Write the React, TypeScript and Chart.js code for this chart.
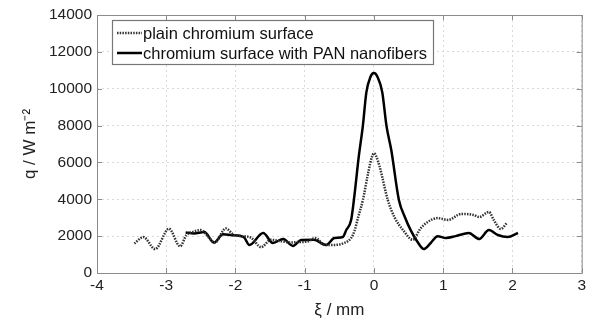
import React, { useEffect, useRef } from "react";
import { Chart, registerables } from "chart.js";

Chart.register(...registerables);

const plainXi = [-3.46, -3.33, -3.16, -2.96, -2.8, -2.71, -2.62, -2.5, -2.38, -2.3, -2.14, -2.02, -1.9, -1.77, -1.63, -1.49, -1.38, -1.3, -1.2, -1.1, -0.97, -0.84, -0.72, -0.6, -0.43, -0.33, -0.28, -0.23, -0.16, -0.08, -0.03, 0, 0.03, 0.08, 0.2, 0.3, 0.42, 0.56, 0.6, 0.66, 0.75, 0.92, 1.07, 1.26, 1.44, 1.52, 1.66, 1.73, 1.83, 1.92];
const plainQ = [1600, 1950, 1300, 2400, 1450, 2050, 2220, 2330, 1900, 1650, 2420, 2060, 2000, 1900, 1400, 1800, 1750, 1700, 1650, 1680, 1700, 1900, 1520, 1520, 1630, 1900, 2300, 3000, 3960, 5500, 6300, 6500, 6350, 5800, 3960, 3000, 2330, 1800, 1950, 2350, 2700, 2980, 2880, 3200, 3150, 3040, 3310, 2880, 2390, 2710];

const panXi = [-2.72, -2.6, -2.45, -2.31, -2.18, -2.05, -1.88, -1.8, -1.6, -1.46, -1.31, -1.17, -1.05, -0.87, -0.69, -0.57, -0.45, -0.4, -0.33, -0.29, -0.22, -0.16, -0.11, -0.05, 0, 0.05, 0.12, 0.18, 0.25, 0.36, 0.45, 0.53, 0.63, 0.72, 0.82, 0.92, 1.04, 1.18, 1.37, 1.52, 1.66, 1.79, 1.93, 2.08];
const panQ = [2200, 2150, 2220, 1650, 2100, 2050, 1950, 1520, 2170, 1630, 1840, 1470, 1790, 1800, 1520, 1900, 1950, 2330, 2870, 3960, 6300, 8000, 9800, 10650, 10850, 10650, 9800, 8000, 6670, 3960, 3000, 2330, 1680, 1300, 1630, 2000, 1900, 2000, 2170, 1840, 2330, 2060, 1950, 2170];

const xTicks = [-4, -3, -2, -1, 0, 1, 2, 3];
const yTicks = [0, 2000, 4000, 6000, 8000, 10000, 12000, 14000];
const seriesLabels = ["plain chromium surface", "chromium surface with PAN nanofibers"];
const xTitle = "ξ / mm";
const yTitle = "q / W m⁻²";

const FONT = "'Liberation Sans', Arial, sans-serif";

const framePlugin = {
  id: "frame",
  afterDatasetsDraw(chart: any) {
    const { ctx, chartArea: a, scales } = chart;
    ctx.save();
    ctx.strokeStyle = "#8c8c8c";
    ctx.lineWidth = 1;
    ctx.strokeRect(a.left + 0.5, a.top + 0.5, a.right - a.left, a.bottom - a.top);
    const tl = 5;
    ctx.beginPath();
    xTicks.forEach((v) => {
      const px = Math.round(scales.x.getPixelForValue(v)) + 0.5;
      ctx.moveTo(px, a.bottom);
      ctx.lineTo(px, a.bottom - tl);
      ctx.moveTo(px, a.top);
      ctx.lineTo(px, a.top + tl);
    });
    yTicks.forEach((v) => {
      const py = Math.round(scales.y.getPixelForValue(v)) + 0.5;
      ctx.moveTo(a.left, py);
      ctx.lineTo(a.left + tl, py);
      ctx.moveTo(a.right, py);
      ctx.lineTo(a.right - tl, py);
    });
    ctx.stroke();

    // legend
    const bx = a.left + 15;
    const by = a.top + 5;
    const bw = 321;
    const bh = 44;
    ctx.fillStyle = "#ffffff";
    ctx.fillRect(bx, by, bw, bh);
    ctx.strokeStyle = "#777";
    ctx.lineWidth = 1.2;
    ctx.strokeRect(bx + 0.5, by + 0.5, bw, bh);
    ctx.font = `16.5px ${FONT}`;
    ctx.textBaseline = "middle";
    ctx.fillStyle = "#111";
    const rows = [by + 13, by + 33];
    chart.data.datasets.forEach((ds: any, i: number) => {
      ctx.beginPath();
      ctx.strokeStyle = ds.borderColor;
      ctx.lineWidth = ds.borderWidth;
      ctx.setLineDash(ds.borderDash || []);
      ctx.moveTo(bx + 5, rows[i]);
      ctx.lineTo(bx + 30, rows[i]);
      ctx.stroke();
      ctx.setLineDash([]);
      ctx.fillText(seriesLabels[i], bx + 31, rows[i] + 1);
    });
    ctx.restore();
  },
};

export default function App() {
  const ref = useRef<HTMLCanvasElement>(null);
  useEffect(() => {
    document.body.style.margin = "0";
    const chart = new Chart(ref.current!, {
      type: "line",
      data: {
        datasets: [
          {
            label: seriesLabels[0],
            data: plainXi.map((x, i) => ({ x, y: plainQ[i] })),
            borderColor: "#333333",
            borderWidth: 2.5,
            borderDash: [1.5, 1.2],
            pointRadius: 0,
            cubicInterpolationMode: "monotone",
            fill: false,
          },
          {
            label: seriesLabels[1],
            data: panXi.map((x, i) => ({ x, y: panQ[i] })),
            borderColor: "#000000",
            borderWidth: 2.5,
            pointRadius: 0,
            cubicInterpolationMode: "monotone",
            fill: false,
          },
        ],
      },
      plugins: [framePlugin],
      options: {
        animation: false,
        responsive: false,
        maintainAspectRatio: false,
        layout: { padding: { top: 15, right: 7, left: 0, bottom: 0 } },
        plugins: { legend: { display: false }, tooltip: { enabled: false } },
        scales: {
          x: {
            type: "linear",
            min: -4,
            max: 3,
            afterBuildTicks: (s: any) => {
              s.ticks = xTicks.map((v) => ({ value: v }));
            },
            afterFit: (s: any) => {
              s.height = 48;
            },
            ticks: {
              font: { size: 15.5, family: FONT },
              color: "#222",
              padding: 3,
              callback: (v: any) => String(v),
            },
            grid: { color: "#d9d9d9", drawTicks: false, lineWidth: 1 },
            border: { display: false, dash: [2, 3] },
            title: {
              display: true,
              text: xTitle,
              font: { size: 17, family: FONT },
              color: "#222",
              padding: { top: 2, bottom: 0 },
            },
          },
          y: {
            min: 0,
            max: 14000,
            afterBuildTicks: (s: any) => {
              s.ticks = yTicks.map((v) => ({ value: v }));
            },
            afterFit: (s: any) => {
              s.width = 97;
            },
            ticks: {
              font: { size: 15.5, family: FONT },
              color: "#222",
              padding: 5,
              callback: (v: any) => String(v),
            },
            grid: { color: "#d9d9d9", drawTicks: false, lineWidth: 1 },
            border: { display: false, dash: [2, 3] },
            title: {
              display: true,
              text: yTitle,
              font: { size: 17, family: FONT },
              color: "#222",
              padding: { top: 20, bottom: 6 },
            },
          },
        },
      },
    });
    return () => chart.destroy();
  }, []);
  return (
    <div style={{ position: "absolute", left: 0, top: 0, width: 589, height: 321, background: "#fff" }}>
      <canvas ref={ref} width={589} height={321} style={{ width: 589, height: 321 }} />
    </div>
  );
}
